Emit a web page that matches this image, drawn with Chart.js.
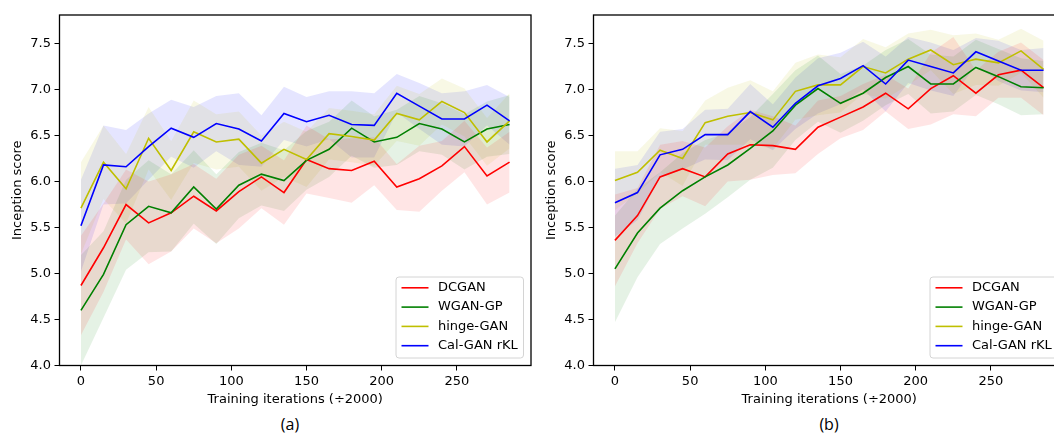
<!DOCTYPE html>
<html>
<head>
<meta charset="utf-8">
<script src="https://cdn.jsdelivr.net/npm/chart.js@4.4.1/dist/chart.umd.min.js"></script>
<style>
  html, body { margin: 0; padding: 0; background: #fff; overflow: hidden; width: 1054px; height: 433px; }
  canvas { position: absolute; top: 0; }
  #chartA { left: 0; }
  #chartB { left: 534px; }
  .cap { position: absolute; top: 413px; line-height: 22px; font-size: 16px; font-family: "Open Sans", sans-serif; transform: translateX(-50%); }
</style>
</head>
<body>
<canvas id="chartA" width="545" height="410"></canvas>
<canvas id="chartB" width="545" height="410"></canvas>
<div class="cap" style="left:290px">(a)</div>
<div class="cap" style="left:829px">(b)</div>
<script>
// x positions (training iterations / 2000)
const iters = [0, 15, 30, 45, 60, 75, 90, 105, 120, 135, 150, 165, 180, 195, 210, 225, 240, 255, 270, 285];
const labels = ['DCGAN', 'WGAN-GP', 'hinge-GAN', 'Cal-GAN rKL'];
const colors = ['#ff0000', '#008000', '#bfbf00', '#0000ff'];
const bandColors = ['rgba(255,0,0,0.1)', 'rgba(0,128,0,0.1)', 'rgba(191,191,0,0.1)', 'rgba(0,0,255,0.1)'];

// panel (a): mean and std
const dcganA = [4.87, 5.28, 5.75, 5.55, 5.66, 5.84, 5.68, 5.89, 6.05, 5.88, 6.24, 6.14, 6.12, 6.22, 5.94, 6.03, 6.17, 6.38, 6.06, 6.21];
const dcganStdA = [0.54, 0.48, 0.38, 0.45, 0.42, 0.35, 0.35, 0.40, 0.34, 0.35, 0.37, 0.32, 0.35, 0.26, 0.25, 0.36, 0.27, 0.28, 0.31, 0.33];
const wganA = [4.60, 4.99, 5.53, 5.73, 5.66, 5.94, 5.70, 5.96, 6.08, 6.01, 6.23, 6.35, 6.58, 6.43, 6.48, 6.63, 6.57, 6.43, 6.57, 6.62];
const wganStdA = [0.60, 0.47, 0.49, 0.50, 0.42, 0.40, 0.38, 0.36, 0.34, 0.33, 0.32, 0.30, 0.30, 0.28, 0.30, 0.30, 0.28, 0.30, 0.30, 0.32];
const hingeA = [5.71, 6.21, 5.92, 6.47, 6.12, 6.54, 6.43, 6.46, 6.20, 6.35, 6.24, 6.52, 6.49, 6.45, 6.74, 6.67, 6.87, 6.75, 6.43, 6.66];
const hingeStdA = [0.50, 0.40, 0.38, 0.34, 0.32, 0.34, 0.30, 0.30, 0.30, 0.30, 0.30, 0.28, 0.28, 0.28, 0.30, 0.28, 0.25, 0.26, 0.26, 0.30];
const calA = [5.52, 6.18, 6.16, 6.38, 6.58, 6.48, 6.63, 6.57, 6.44, 6.74, 6.65, 6.72, 6.62, 6.61, 6.96, 6.82, 6.68, 6.68, 6.83, 6.66];
const calStdA = [0.50, 0.43, 0.40, 0.36, 0.31, 0.33, 0.30, 0.39, 0.28, 0.29, 0.27, 0.26, 0.36, 0.35, 0.21, 0.25, 0.28, 0.30, 0.22, 0.26];

// panel (b): mean and std
const dcganB = [5.36, 5.63, 6.05, 6.14, 6.05, 6.30, 6.40, 6.39, 6.35, 6.59, 6.70, 6.81, 6.96, 6.79, 7.01, 7.15, 6.96, 7.16, 7.21, 7.02];
const dcganStdB = [0.50, 0.30, 0.35, 0.30, 0.32, 0.30, 0.38, 0.32, 0.26, 0.29, 0.23, 0.25, 0.20, 0.22, 0.39, 0.42, 0.25, 0.25, 0.30, 0.30];
const wganB = [5.05, 5.44, 5.71, 5.90, 6.05, 6.18, 6.36, 6.55, 6.83, 7.01, 6.85, 6.96, 7.13, 7.25, 7.06, 7.06, 7.24, 7.14, 7.03, 7.02];
const wganStdB = [0.58, 0.48, 0.39, 0.41, 0.40, 0.35, 0.34, 0.40, 0.38, 0.36, 0.32, 0.30, 0.30, 0.30, 0.32, 0.30, 0.30, 0.30, 0.31, 0.29];
const hingeB = [6.01, 6.10, 6.34, 6.25, 6.64, 6.71, 6.75, 6.67, 6.98, 7.05, 7.05, 7.25, 7.18, 7.33, 7.43, 7.27, 7.33, 7.29, 7.42, 7.22];
const hingeStdB = [0.32, 0.23, 0.24, 0.30, 0.24, 0.31, 0.35, 0.31, 0.31, 0.33, 0.30, 0.30, 0.28, 0.28, 0.22, 0.32, 0.28, 0.25, 0.24, 0.31];
const calB = [5.77, 5.88, 6.29, 6.35, 6.51, 6.51, 6.76, 6.59, 6.85, 7.04, 7.12, 7.26, 7.06, 7.32, 7.25, 7.18, 7.41, 7.31, 7.21, 7.21];
const calStdB = [0.37, 0.30, 0.25, 0.22, 0.27, 0.28, 0.30, 0.25, 0.28, 0.30, 0.28, 0.26, 0.30, 0.25, 0.26, 0.25, 0.15, 0.22, 0.22, 0.24];

const yTicks = [4.0, 4.5, 5.0, 5.5, 6.0, 6.5, 7.0, 7.5];
const xTicks = [0, 50, 100, 150, 200, 250];

Chart.defaults.font.family = '"DejaVu Sans", sans-serif';
Chart.defaults.font.size = 13;
Chart.defaults.color = '#000';

function pts(ys) {
  return ys.map((y, i) => ({ x: iters[i], y: y }));
}

function buildDatasets(means, stds) {
  const sets = [];
  means.forEach((m, k) => {
    sets.push({
      label: labels[k], data: pts(m), borderColor: colors[k], borderWidth: 1.6,
      pointRadius: 0, fill: false, tension: 0, order: 4 - k
    });
  });
  means.forEach((m, k) => {
    const s = stds[k];
    sets.push({
      label: '', data: pts(m.map((v, i) => v + s[i])), borderColor: 'rgba(0,0,0,0)',
      borderWidth: 0, pointRadius: 0, fill: false, order: 10
    });
    sets.push({
      label: '', data: pts(m.map((v, i) => v - s[i])), borderColor: 'rgba(0,0,0,0)',
      borderWidth: 0, pointRadius: 0, backgroundColor: bandColors[k], fill: '-1', order: 10
    });
  });
  return sets;
}

// frame + legend box in lower right of the plot
const boxLegend = {
  id: 'boxLegend',
  afterDraw(chart) {
    const { ctx, chartArea } = chart;
    ctx.save();
    ctx.strokeStyle = '#000';
    ctx.lineWidth = 1.3;
    ctx.strokeRect(chartArea.left, chartArea.top, chartArea.right - chartArea.left, chartArea.bottom - chartArea.top);

    const w = 127.5, h = 81;
    const x0 = chartArea.right - 7.5 - w;
    const y0 = chartArea.bottom - 7.5 - h;
    ctx.beginPath();
    ctx.roundRect(x0, y0, w, h, 3);
    ctx.fillStyle = 'rgba(255,255,255,0.8)';
    ctx.fill();
    ctx.strokeStyle = '#d4d4d4';
    ctx.lineWidth = 1;
    ctx.stroke();

    ctx.font = '13px "DejaVu Sans"';
    ctx.textBaseline = 'middle';
    ctx.textAlign = 'left';
    labels.forEach((t, k) => {
      const y = y0 + 10.8 + k * 19.3;
      ctx.strokeStyle = colors[k];
      ctx.lineWidth = 1.6;
      ctx.beginPath();
      ctx.moveTo(x0 + 5.5, y);
      ctx.lineTo(x0 + 32.5, y);
      ctx.stroke();
      ctx.fillStyle = '#000';
      ctx.fillText(t, x0 + 42, y);
    });
    ctx.restore();
  }
};

function makeChart(id, means, stds) {
  return new Chart(document.getElementById(id), {
    type: 'line',
    data: { datasets: buildDatasets(means, stds) },
    options: {
      responsive: false,
      animation: false,
      layout: { padding: { top: 15, right: 14, left: 0, bottom: 0 } },
      plugins: {
        legend: { display: false },
        tooltip: { enabled: false },
        filler: { drawTime: 'beforeDatasetsDraw' }
      },
      scales: {
        x: {
          type: 'linear', min: -14.25, max: 299.25,
          afterFit(s) { s.height = 44.5; },
          afterBuildTicks(s) { s.ticks = xTicks.map(v => ({ value: v })); },
          grid: { drawOnChartArea: false, drawTicks: true, tickLength: 5, color: '#000', lineWidth: 1 },
          border: { display: false },
          ticks: { autoSkip: false, maxRotation: 0, padding: 3, callback: v => String(v) },
          title: { display: true, text: 'Training iterations (÷2000)', padding: { top: 0, bottom: 2.2 } }
        },
        y: {
          type: 'linear', min: 4, max: 7.81,
          afterFit(s) { s.width = 59.5; },
          afterBuildTicks(s) { s.ticks = yTicks.map(v => ({ value: v })); },
          grid: { drawOnChartArea: false, drawTicks: true, tickLength: 5, color: '#000', lineWidth: 1 },
          border: { display: false },
          ticks: { autoSkip: false, padding: 3.5, callback: v => Number(v).toFixed(1) },
          title: { display: true, text: 'Inception score', padding: { top: 10.2, bottom: 0 } }
        }
      }
    },
    plugins: [boxLegend]
  });
}

makeChart('chartA', [dcganA, wganA, hingeA, calA], [dcganStdA, wganStdA, hingeStdA, calStdA]);
makeChart('chartB', [dcganB, wganB, hingeB, calB], [dcganStdB, wganStdB, hingeStdB, calStdB]);
</script>
</body>
</html>
